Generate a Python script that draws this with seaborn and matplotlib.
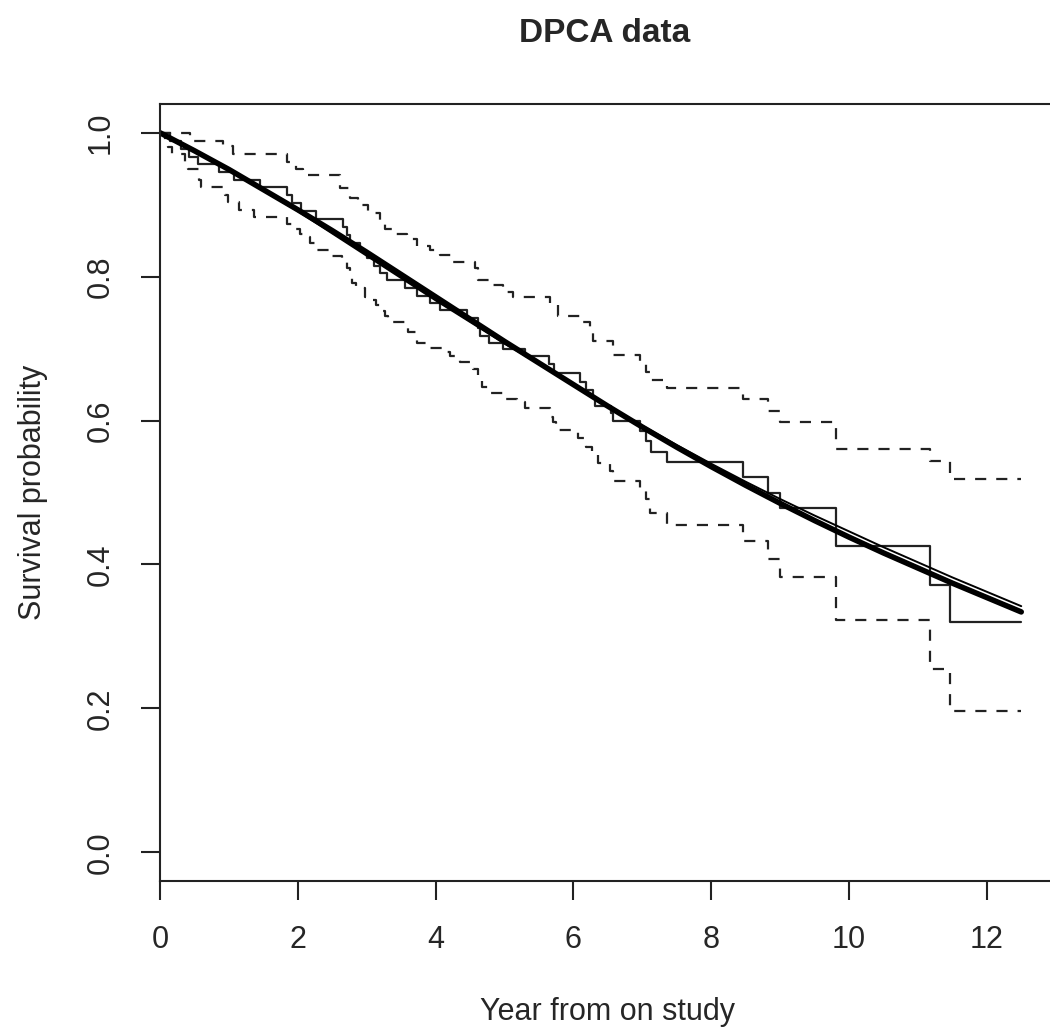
import numpy as np
import pandas as pd
import seaborn as sns
import matplotlib
matplotlib.use("Agg")
import matplotlib.pyplot as plt

# Kaplan-Meier estimate (time of drop, survival after the drop)
km_time = [0.0, 0.15, 0.30, 0.42, 0.55, 0.85, 1.08, 1.45, 1.84, 1.92, 2.05, 2.27,
           2.66, 2.72, 2.76, 2.90, 3.00, 3.10, 3.19, 3.29, 3.56, 3.73, 3.92, 4.06,
           4.45, 4.62, 4.64, 4.77, 4.98, 5.30, 5.64, 5.72, 6.10, 6.19, 6.29, 6.31,
           6.55, 6.58, 6.97, 7.06, 7.12, 7.36, 8.46, 8.83, 9.00, 9.81, 11.18, 11.47, 12.5]
km_surv = [1.000, 0.989, 0.978, 0.967, 0.956, 0.945, 0.934, 0.924, 0.913, 0.902, 0.891, 0.880,
           0.869, 0.858, 0.847, 0.836, 0.826, 0.815, 0.805, 0.795, 0.784, 0.773, 0.763, 0.753,
           0.742, 0.729, 0.717, 0.708, 0.700, 0.690, 0.679, 0.666, 0.653, 0.642, 0.631, 0.620,
           0.611, 0.600, 0.585, 0.571, 0.556, 0.542, 0.522, 0.500, 0.478, 0.425, 0.372, 0.320, 0.320]

# upper confidence limit
up_time = [0.0, 0.44, 0.92, 1.06, 1.84, 1.97, 2.08, 2.61, 2.76, 2.88, 3.02, 3.19, 3.27,
           3.40, 3.58, 3.73, 3.92, 4.06, 4.25, 4.57, 4.62, 4.77, 4.98, 5.13, 5.66, 5.78,
           6.10, 6.24, 6.29, 6.58, 6.97, 7.06, 7.11, 7.36, 8.46, 8.83, 9.00, 9.81, 11.18,
           11.47, 12.5]
up_surv = [1.000, 0.989, 0.981, 0.971, 0.960, 0.950, 0.941, 0.923, 0.909, 0.900, 0.888, 0.879, 0.866,
           0.859, 0.853, 0.843, 0.837, 0.830, 0.821, 0.812, 0.795, 0.788, 0.779, 0.772, 0.760, 0.746,
           0.737, 0.726, 0.710, 0.691, 0.680, 0.668, 0.657, 0.645, 0.630, 0.613, 0.598, 0.561, 0.544,
           0.519, 0.519]

# lower confidence limit
lo_time = [0.0, 0.07, 0.12, 0.17, 0.36, 0.41, 0.56, 0.60, 0.94, 0.99, 1.14, 1.37, 1.84,
           1.94, 2.03, 2.08, 2.18, 2.25, 2.47, 2.64, 2.71, 2.76, 2.79, 2.85, 2.97, 3.02,
           3.14, 3.24, 3.27, 3.31, 3.60, 3.73, 3.92, 4.09, 4.21, 4.35, 4.55, 4.62, 4.67,
           4.81, 5.01, 5.18, 5.30, 5.66, 5.71, 5.75, 6.07, 6.19, 6.27, 6.36, 6.53, 6.58,
           6.97, 7.06, 7.11, 7.36, 8.46, 8.83, 9.00, 9.81, 11.18, 11.47, 12.5]
lo_surv = [1.000, 0.990, 0.980, 0.971, 0.960, 0.950, 0.935, 0.924, 0.913, 0.904, 0.892, 0.883, 0.873,
           0.866, 0.860, 0.855, 0.847, 0.837, 0.829, 0.822, 0.812, 0.800, 0.791, 0.784, 0.772, 0.767,
           0.760, 0.752, 0.746, 0.737, 0.723, 0.708, 0.701, 0.695, 0.690, 0.682, 0.672, 0.660, 0.647,
           0.638, 0.630, 0.626, 0.618, 0.605, 0.598, 0.587, 0.576, 0.563, 0.552, 0.541, 0.530, 0.516,
           0.505, 0.491, 0.472, 0.455, 0.433, 0.407, 0.382, 0.323, 0.254, 0.196, 0.196]

# fitted parametric survival curves
fit_time = [0.0, 0.5, 1.0, 1.5, 2.0, 2.5, 3.0, 3.5, 4.0, 4.5, 5.0, 5.5, 6.0,
            6.5, 7.0, 7.5, 8.0, 8.5, 9.0, 9.5, 10.0, 10.5, 11.0, 11.5, 12.0, 12.5]
fit_thick = [1.000, 0.975, 0.949, 0.921, 0.893, 0.864, 0.834, 0.803, 0.772, 0.741, 0.710, 0.680, 0.650,
             0.620, 0.591, 0.563, 0.536, 0.510, 0.485, 0.461, 0.438, 0.416, 0.395, 0.374, 0.354, 0.334]
fit_thin = [1.000, 0.975, 0.948, 0.920, 0.891, 0.860, 0.829, 0.798, 0.767, 0.737, 0.707, 0.679, 0.650,
            0.621, 0.593, 0.566, 0.540, 0.515, 0.491, 0.468, 0.446, 0.424, 0.403, 0.382, 0.362, 0.342]

sns.set_theme(style="ticks")
plt.rcParams['font.family'] = ['Liberation Sans', 'DejaVu Sans']

fig = plt.figure(figsize=(10.5, 10.36), dpi=100)
ax = fig.add_axes([160 / 1050, 155 / 1036, 895.7 / 1050, 777 / 1036])

km = pd.DataFrame({"time": km_time, "surv": km_surv})
up = pd.DataFrame({"time": up_time, "surv": up_surv})
lo = pd.DataFrame({"time": lo_time, "surv": lo_surv})

sns.lineplot(data=km, x="time", y="surv", ax=ax, estimator=None, sort=False,
             drawstyle="steps-post", color="#222222", lw=1.6)
for band in (up, lo):
    sns.lineplot(data=band, x="time", y="surv", ax=ax, estimator=None, sort=False,
                 drawstyle="steps-post", color="#222222", lw=1.6,
                 linestyle=(0, (5, 4.5)))

sns.lineplot(x=fit_time, y=fit_thick, ax=ax, estimator=None, color="black", lw=4.0)
sns.lineplot(x=fit_time, y=fit_thin, ax=ax, estimator=None, color="black", lw=1.4)

ax.set_xlim(0, 13)
ax.set_ylim(-0.04, 1.04)
ax.set_xticks([0, 2, 4, 6, 8, 10, 12])
ax.set_yticks([0.0, 0.2, 0.4, 0.6, 0.8, 1.0])
ax.set_yticklabels(["0.0", "0.2", "0.4", "0.6", "0.8", "1.0"], rotation=90, va="center")
ax.tick_params(direction="out", length=14, width=1.5, labelsize=22, pad=18, color="#222222")
for s in ax.spines.values():
    s.set_linewidth(1.5)
    s.set_color("#222222")
ax.spines["right"].set_visible(False)

ax.set_xlabel("Year from on study", fontsize=22, labelpad=30)
ax.set_ylabel("Survival probability", fontsize=22, labelpad=27)
ax.set_title("DPCA data", fontsize=24, fontweight="bold", pad=45, x=(605 - 160) / 895.7)

fig.savefig("out.png", dpi=100)
